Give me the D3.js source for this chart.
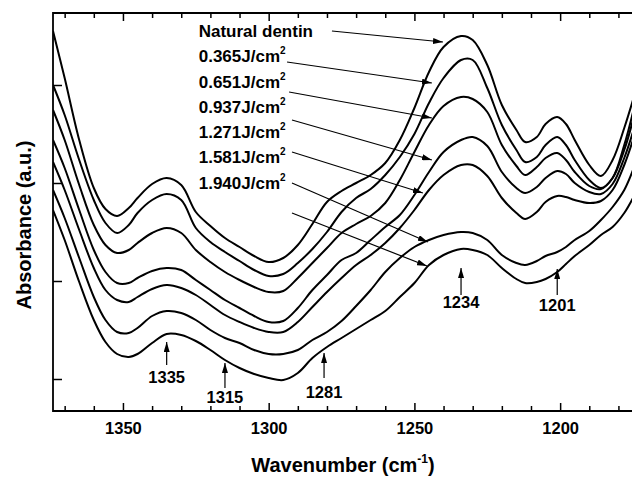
<!DOCTYPE html>
<html>
<head>
<meta charset="utf-8">
<script src="https://cdn.jsdelivr.net/npm/d3@7"></script>
<style>
  body { margin: 0; background: #fff; }
  text { font-family: "Liberation Sans", Arial, sans-serif; font-weight: bold; fill: #000; }
</style>
</head>
<body>
<script>
// wavenumber grid (cm-1)
var wavenumbers = [1374,1370,1365,1360,1356,1352,1348,1345,1340,1335,1330,1325,1320,1315,1310,1305,1300,1295,1290,1285,1280,1275,1270,1265,1260,1255,1250,1245,1240,1234,1230,1225,1220,1215,1212,1208,1205,1201,1198,1195,1190,1186,1182,1178,1175];

// absorbance (a.u., stacked spectra)
var naturalDentin = [3.80,3.33,2.71,2.23,2.02,1.95,2.03,2.13,2.27,2.33,2.26,1.99,1.85,1.73,1.64,1.55,1.49,1.53,1.66,1.87,2.09,2.20,2.28,2.36,2.48,2.71,3.03,3.39,3.64,3.75,3.71,3.46,3.06,2.81,2.69,2.74,2.87,2.94,2.87,2.71,2.46,2.35,2.51,2.83,3.11];
var f0365 = [3.26,2.96,2.51,2.11,1.88,1.78,1.86,1.98,2.11,2.17,2.11,1.83,1.69,1.59,1.50,1.41,1.35,1.37,1.48,1.62,1.79,1.99,2.13,2.22,2.36,2.54,2.77,3.08,3.33,3.51,3.51,3.23,2.86,2.61,2.49,2.54,2.66,2.74,2.66,2.51,2.31,2.23,2.33,2.66,2.99];
var f0651 = [3.01,2.71,2.26,1.86,1.66,1.58,1.61,1.68,1.78,1.83,1.78,1.61,1.49,1.39,1.31,1.24,1.19,1.20,1.33,1.48,1.63,1.78,1.87,1.95,2.08,2.31,2.59,2.86,3.05,3.14,3.12,2.99,2.66,2.45,2.36,2.44,2.53,2.58,2.51,2.39,2.25,2.22,2.33,2.61,2.91];
var f0937 = [2.71,2.43,2.01,1.61,1.39,1.28,1.28,1.33,1.40,1.43,1.41,1.31,1.21,1.11,1.03,0.95,0.89,0.90,1.03,1.21,1.36,1.51,1.58,1.71,1.84,1.96,2.16,2.39,2.59,2.71,2.74,2.65,2.39,2.23,2.18,2.24,2.33,2.40,2.37,2.28,2.19,2.17,2.27,2.53,2.79];
var f1271 = [2.49,2.21,1.81,1.43,1.21,1.11,1.09,1.14,1.22,1.26,1.23,1.16,1.06,0.96,0.89,0.83,0.79,0.79,0.89,1.04,1.19,1.33,1.46,1.56,1.68,1.83,2.01,2.21,2.36,2.46,2.46,2.35,2.13,1.98,1.92,1.99,2.09,2.15,2.14,2.11,2.08,2.10,2.21,2.46,2.71];
var f1581 = [2.21,1.93,1.53,1.14,0.91,0.79,0.78,0.83,0.95,1.00,0.98,0.91,0.81,0.73,0.68,0.61,0.57,0.57,0.61,0.71,0.79,0.90,1.05,1.21,1.39,1.53,1.64,1.71,1.76,1.79,1.78,1.71,1.56,1.48,1.46,1.50,1.55,1.59,1.64,1.71,1.80,1.91,2.04,2.21,2.41];
var f1940 = [2.01,1.71,1.29,0.91,0.69,0.57,0.54,0.57,0.68,0.77,0.76,0.70,0.61,0.51,0.43,0.37,0.33,0.31,0.38,0.53,0.64,0.73,0.82,0.91,1.00,1.14,1.28,1.46,1.56,1.62,1.61,1.56,1.43,1.32,1.28,1.29,1.32,1.39,1.47,1.55,1.66,1.76,1.84,1.98,2.13];

var spectra = [naturalDentin, f0365, f0651, f0937, f1271, f1581, f1940];

// legend text and its arrows
var labelText = ["Natural dentin", "0.365J/cm", "0.651J/cm", "0.937J/cm", "1.271J/cm", "1.581J/cm", "1.940J/cm"];
var labelSup = ["", "2", "2", "2", "2", "2", "2"];
var labelWave = 1324;
var labelAbs = [3.74, 3.49, 3.23, 2.98, 2.73, 2.48, 2.22];
var arrowFromWave = [1278.3, 1293.7, 1293.0, 1292.0, 1292.0, 1292.0, 1292.0];
var arrowFromAbs = [3.80, 3.49, 3.19, 2.91, 2.59, 2.28, 1.98];
var arrowToWave = [1240.2, 1244.0, 1244.0, 1244.0, 1247.1, 1245.4, 1245.7];
var arrowToAbs = [3.69, 3.28, 2.93, 2.51, 2.18, 1.69, 1.45];

// band markers
var bandWave = [1335, 1315, 1281, 1234, 1201];
var bandTip = [0.69, 0.48, 0.58, 1.43, 1.42];
var bandBase = [0.46, 0.23, 0.33, 1.16, 1.16];
var bandLabel = [0.28, 0.08, 0.13, 1.03, 1.00];

var majorTicks = [1350, 1300, 1250, 1200];
var minorTicks = [1370, 1360, 1340, 1330, 1320, 1310, 1290, 1280, 1270, 1260, 1240, 1230, 1220, 1210, 1190, 1180];
var yTicks = [0.32, 1.30, 2.28, 3.26];

var margin = {top: 13, right: -1, bottom: 67, left: 53},
    width = 633 - margin.left,
    height = 478 - margin.top - margin.bottom;

var x = d3.scaleLinear()
    .domain([1374, 1175])
    .range([0, width]);

var y = d3.scaleLinear()
    .domain([0, 3.98])
    .range([height, 0]);

var svg = d3.select("body").append("svg")
    .attr("width", 632)
    .attr("height", 478)
  .append("g")
    .attr("transform", "translate(" + margin.left + "," + margin.top + ")");

var defs = svg.append("defs");
defs.append("clipPath").attr("id", "plot")
  .append("rect").attr("width", width).attr("height", height);
defs.append("marker")
    .attr("id", "head")
    .attr("viewBox", "0 0 10 6")
    .attr("refX", 10)
    .attr("refY", 3)
    .attr("markerUnits", "userSpaceOnUse")
    .attr("markerWidth", 10)
    .attr("markerHeight", 6)
    .attr("orient", "auto")
  .append("path")
    .attr("d", "M0,0L10,3L0,6Z")
    .attr("fill", "#000");

// axes, ticks pointing inside
var bottomMajor = d3.axisBottom(x).tickValues(majorTicks).tickSizeInner(-8).tickSizeOuter(0).tickPadding(11).tickFormat(d3.format("d"));
var bottomMinor = d3.axisBottom(x).tickValues(minorTicks).tickSizeInner(-5).tickSizeOuter(0).tickFormat("");
var topMajor = d3.axisTop(x).tickValues(majorTicks).tickSizeInner(-8).tickSizeOuter(0).tickFormat("");
var topMinor = d3.axisTop(x).tickValues(minorTicks).tickSizeInner(-5).tickSizeOuter(0).tickFormat("");
var leftAxis = d3.axisLeft(y).tickValues(yTicks).tickSizeInner(-9).tickSizeOuter(0).tickFormat("");

svg.append("g").attr("class", "axis").attr("transform", "translate(0," + height + ")").call(bottomMajor);
svg.append("g").attr("class", "axis").attr("transform", "translate(0," + height + ")").call(bottomMinor);
svg.append("g").attr("class", "axis").call(topMajor);
svg.append("g").attr("class", "axis").call(topMinor);
svg.append("g").attr("class", "axis").call(leftAxis);

svg.selectAll(".axis .domain").remove();
svg.selectAll(".axis line").attr("stroke", "#000").attr("stroke-width", 1.5);
svg.selectAll(".axis text")
    .style("font-size", "16.5px")
    .style("font-family", "'Liberation Sans', Arial, sans-serif")
    .style("font-weight", "bold");

svg.append("path")
    .attr("d", "M" + width + ",0H0V" + height + "H" + width)
    .attr("fill", "none")
    .attr("stroke", "#000")
    .attr("stroke-width", 1.8);

// spectra
var line = d3.line()
    .x(function(d, i) { return x(wavenumbers[i]); })
    .y(function(d) { return y(d); })
    .curve(d3.curveCatmullRom.alpha(0.5));

svg.append("g")
    .attr("clip-path", "url(#plot)")
  .selectAll(".spectrum")
    .data(spectra)
  .enter().append("path")
    .attr("class", "spectrum")
    .attr("d", line)
    .attr("fill", "none")
    .attr("stroke", "#000")
    .attr("stroke-width", 2);

// legend labels
var labels = svg.selectAll(".label")
    .data(labelText)
  .enter().append("text")
    .attr("class", "label")
    .attr("x", x(labelWave))
    .attr("y", function(d, i) { return y(labelAbs[i]); })
    .style("font-size", "17px");
labels.append("tspan").text(function(d) { return d; });
labels.append("tspan")
    .attr("dy", -8)
    .style("font-size", "10px")
    .text(function(d, i) { return labelSup[i]; });

svg.selectAll(".pointer")
    .data(labelText)
  .enter().append("line")
    .attr("class", "pointer")
    .attr("x1", function(d, i) { return x(arrowFromWave[i]); })
    .attr("y1", function(d, i) { return y(arrowFromAbs[i]); })
    .attr("x2", function(d, i) { return x(arrowToWave[i]); })
    .attr("y2", function(d, i) { return y(arrowToAbs[i]); })
    .attr("stroke", "#000")
    .attr("stroke-width", 1.2)
    .attr("marker-end", "url(#head)");

// band arrows
svg.selectAll(".band")
    .data(bandWave)
  .enter().append("line")
    .attr("class", "band")
    .attr("x1", function(d) { return x(d); })
    .attr("x2", function(d) { return x(d); })
    .attr("y1", function(d, i) { return y(bandBase[i]); })
    .attr("y2", function(d, i) { return y(bandTip[i]); })
    .attr("stroke", "#000")
    .attr("stroke-width", 1.2)
    .attr("marker-end", "url(#head)");

svg.selectAll(".bandlabel")
    .data(bandWave)
  .enter().append("text")
    .attr("class", "bandlabel")
    .attr("x", function(d) { return x(d); })
    .attr("y", function(d, i) { return y(bandLabel[i]); })
    .style("text-anchor", "middle")
    .style("font-size", "16.5px")
    .text(function(d) { return d; });

// axis titles
var xt = svg.append("text")
    .attr("x", width / 2)
    .attr("y", height + 61)
    .style("text-anchor", "middle")
    .style("font-size", "20px");
xt.append("tspan").text("Wavenumber (cm");
xt.append("tspan").attr("dy", -9).style("font-size", "12px").text("-1");
xt.append("tspan").attr("dy", 9).text(")");

svg.append("text")
    .attr("transform", "translate(-22," + (225 - margin.top) + ") rotate(-90)")
    .style("text-anchor", "middle")
    .style("font-size", "20px")
    .text("Absorbance (a.u.)");
</script>
</body>
</html>
